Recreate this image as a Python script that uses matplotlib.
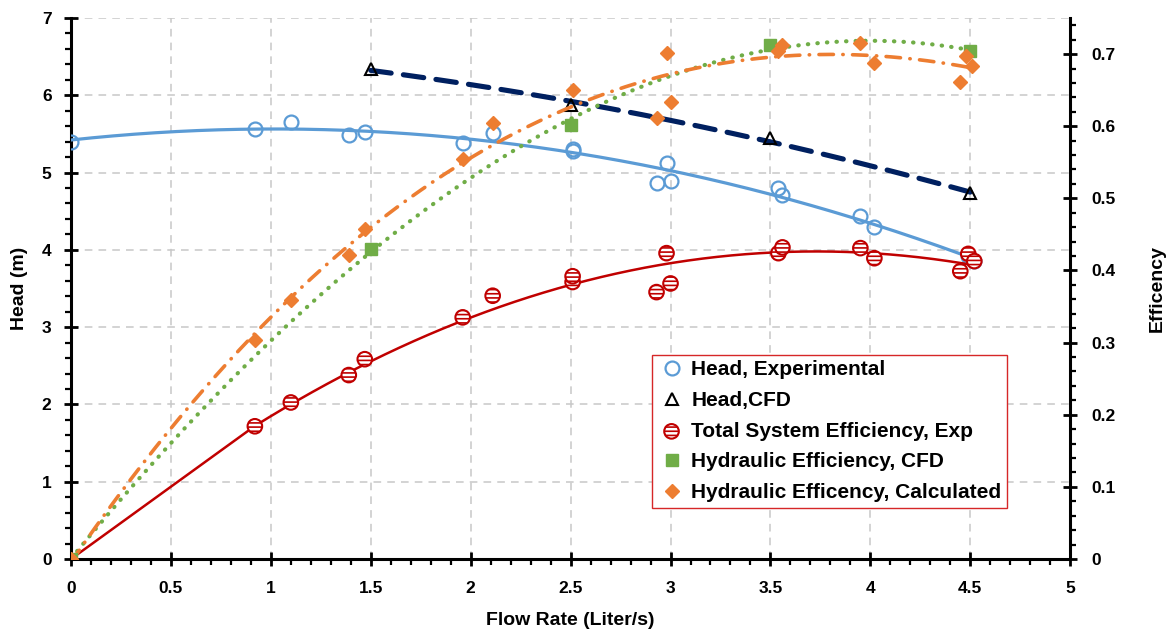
import numpy as np
import matplotlib
matplotlib.use("Agg")
from matplotlib import pyplot as plt
from matplotlib.ticker import MultipleLocator

plt.rcParams['font.family'] = ['Liberation Sans', 'DejaVu Sans']
plt.rcParams['font.weight'] = 'bold'
plt.rcParams['axes.labelweight'] = 'bold'
plt.rcParams['hatch.color'] = '#C00000'
plt.rcParams['hatch.linewidth'] = 1.2

# --- data ---
# head, experimental (left axis)
q_head_exp = [0.0, 0.92, 1.10, 1.39, 1.47, 1.96, 2.11, 2.51, 2.51, 2.93, 2.98, 3.00,
              3.54, 3.56, 3.95, 4.02, 4.49, 4.52]
head_exp = [5.40, 5.57, 5.65, 5.48, 5.53, 5.38, 5.51, 5.31, 5.28, 4.86, 5.12, 4.89,
            4.80, 4.71, 4.44, 4.29, 3.92, 3.85]

# head, CFD (left axis)
q_cfd_head = [1.5, 2.5, 3.5, 4.5]
head_cfd = [6.34, 5.87, 5.45, 4.73]

# total system efficiency, experimental (right axis)
q_eff_exp = [0.92, 1.10, 1.39, 1.47, 1.96, 2.11, 2.51, 2.51, 2.93, 2.98, 3.00,
             3.54, 3.56, 3.95, 4.02, 4.45, 4.49, 4.52]
eff_exp = [0.184, 0.217, 0.255, 0.277, 0.335, 0.365, 0.384, 0.392, 0.370, 0.424, 0.382,
           0.424, 0.432, 0.431, 0.417, 0.399, 0.423, 0.413]

# hydraulic efficiency, CFD (right axis)
q_cfd_eff = [0.0, 1.5, 2.5, 3.5, 4.5]
eff_cfd = [0.0, 0.430, 0.602, 0.712, 0.704]

# hydraulic efficiency, calculated (right axis)
q_calc = [0.0, 0.92, 1.10, 1.39, 1.47, 1.96, 2.11, 2.51, 2.93, 2.98, 3.00,
          3.54, 3.56, 3.95, 4.02, 4.45, 4.48, 4.51]
eff_calc = [0.0, 0.303, 0.359, 0.421, 0.458, 0.555, 0.604, 0.650, 0.611, 0.701, 0.633,
            0.704, 0.713, 0.715, 0.688, 0.661, 0.697, 0.684]

BLUE = '#5B9BD5'
NAVY = '#002060'
RED = '#C00000'
GREEN = '#70AD47'
ORANGE = '#ED7D31'


def trend(x, y, deg, through_origin=False):
    """polynomial trendline like the excel one"""
    x = np.asarray(x)
    y = np.asarray(y)
    xs = np.linspace(x.min(), x.max(), 300)
    if through_origin:
        A = np.column_stack([x ** k for k in range(1, deg + 1)])
        coef = np.linalg.lstsq(A, y, rcond=None)[0]
        ys = sum(c * xs ** (k + 1) for k, c in enumerate(coef))
    else:
        ys = np.polyval(np.polyfit(x, y, deg), xs)
    return xs, ys


fig = plt.figure(figsize=(11.7, 6.32), dpi=100)
ax = fig.add_axes([0.0607, 0.1155, 0.854, 0.856])
ax2 = ax.twinx()

# left axis: head
xs, ys = trend(q_head_exp, head_exp, 2)
ax.plot(xs, ys, color=BLUE, lw=2.3, zorder=3)
xs, ys = trend(q_cfd_head, head_cfd, 2)
ax.plot(xs, ys, color=NAVY, lw=3.7, dashes=(4.0, 2.4), dash_capstyle='round', zorder=3)
h1, = ax.plot(q_head_exp, head_exp, 'o', ms=10, mfc='none', mec=BLUE, mew=1.6,
              label='Head, Experimental', zorder=4)
h2, = ax.plot(q_cfd_head, head_cfd, '^', ms=9, mfc='none', mec='black', mew=1.5,
              label='Head,CFD', zorder=4)

# right axis: efficiency
xs, ys = trend(q_eff_exp, eff_exp, 2, through_origin=True)
ax2.plot(np.r_[0, xs], np.r_[0, ys], color=RED, lw=1.8, zorder=3)
xs, ys = trend(q_cfd_eff, eff_cfd, 3)
ax2.plot(xs, ys, color=GREEN, lw=3, dashes=(0.1, 2.2), dash_capstyle='round', zorder=3)
xs, ys = trend(q_calc, eff_calc, 3)
ax2.plot(xs, ys, color=ORANGE, lw=2.6, dashes=(4, 2.6, 0.1, 2.6), dash_capstyle='round', zorder=3)

h3 = ax2.scatter(q_eff_exp, eff_exp, s=110, marker='o', facecolors='white', edgecolors=RED,
                 linewidths=1.5, hatch='----', label='Total System Efficiency, Exp', zorder=4)
h4, = ax2.plot(q_cfd_eff, eff_cfd, 's', ms=9, color=GREEN, label='Hydraulic Efficiency, CFD', zorder=5)
h5, = ax2.plot(q_calc, eff_calc, 'D', ms=7.5, color=ORANGE, label='Hydraulic Efficency, Calculated', zorder=5)

# axes styling
ax.set_xlim(0, 5)
ax.set_ylim(0, 7)
ax2.set_ylim(0, 0.75)
ax.xaxis.set_major_locator(MultipleLocator(0.5))
ax.xaxis.set_minor_locator(MultipleLocator(0.1))
ax.yaxis.set_major_locator(MultipleLocator(1))
ax.yaxis.set_minor_locator(MultipleLocator(0.2))
ax2.yaxis.set_major_locator(MultipleLocator(0.1))
ax2.yaxis.set_minor_locator(MultipleLocator(0.02))
ax.xaxis.set_major_formatter(lambda v, p: f'{v:g}')
ax.yaxis.set_major_formatter(lambda v, p: f'{v:g}')
ax2.yaxis.set_major_formatter(lambda v, p: f'{v:g}')

ax.grid(True, which='major', color='#C8C8C8', lw=1.1, ls=(0, (5, 4)))
ax.set_axisbelow(True)

for a in (ax, ax2):
    a.spines['top'].set_visible(False)
    for s in ('left', 'bottom', 'right'):
        a.spines[s].set_linewidth(2.2)
        a.spines[s].set_color('black')
    a.tick_params(which='major', direction='inout', length=10, width=2, labelsize=12.5)
    a.tick_params(which='minor', direction='out', length=4, width=1.6)
ax.spines['right'].set_visible(False)
ax2.spines['left'].set_visible(False)
ax2.spines['bottom'].set_visible(False)
ax.tick_params(axis='y', pad=9)
ax.tick_params(axis='x', pad=11)
ax2.tick_params(axis='y', pad=10)

ax.set_xlabel('Flow Rate (Liter/s)', fontsize=14, labelpad=11)
ax.set_ylabel('Head (m)', fontsize=14, labelpad=10)
ax2.set_ylabel('Efficency', fontsize=14, labelpad=24)

leg = ax2.legend(handles=[h1, h2, h3, h4, h5], loc='lower left',
                 bbox_to_anchor=(0.5816, 0.0943), fontsize=15, frameon=True,
                 fancybox=False, edgecolor='#D62728', framealpha=1,
                 handlelength=1.3, handletextpad=0.3, labelspacing=0.56,
                 borderpad=0.28, borderaxespad=0)
leg.get_frame().set_linewidth(1.0)
leg.set_zorder(10)

fig.savefig('out.png', dpi=100)
